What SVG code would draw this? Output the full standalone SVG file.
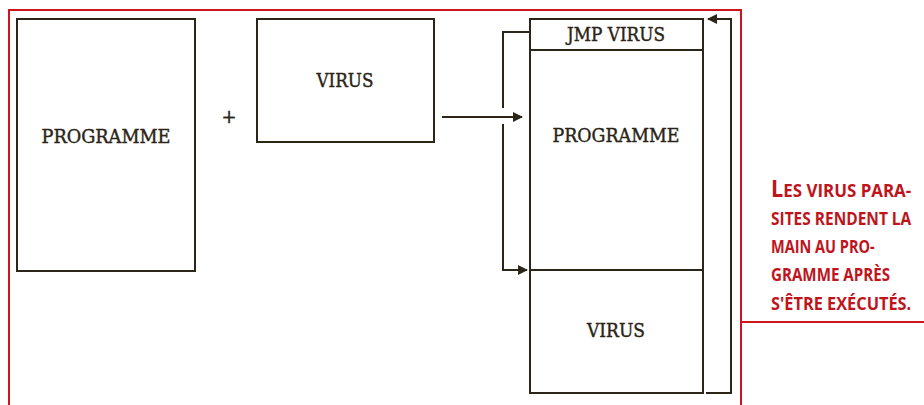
<svg xmlns="http://www.w3.org/2000/svg" width="924" height="405" viewBox="0 0 924 405">
<style>
.box{fill:none;stroke:#2b2617;stroke-width:2}
.lbl{font-family:"DejaVu Serif","Liberation Serif",serif;font-size:18px;fill:#2b2416;stroke:#2b2416;stroke-width:0.4;text-anchor:middle}
.con{fill:none;stroke:#2b2617;stroke-width:2}
.frame{fill:none;stroke:#d0141e;stroke-width:2}
.cap{font-family:"Open Sans","DejaVu Sans",sans-serif;font-weight:700;font-size:18px;fill:#c0141c}
</style>
<defs>
<marker id="ah" viewBox="0 0 10 10" refX="9" refY="5" markerWidth="10" markerHeight="10" markerUnits="userSpaceOnUse" orient="auto">
<path d="M0,0 L10,5 L0,10 Z" fill="#2b2617"/>
</marker>
</defs>
<rect width="924" height="405" fill="#ffffff"/>
<g id="frame">
<path class="frame" d="M9,405 V10 H741 V405"/>
<path class="frame" d="M741,322 H924"/>
</g>
<g id="programme">
<rect class="box" x="17" y="19" width="178" height="252"/>
<text class="lbl" x="106" y="143" textLength="129" lengthAdjust="spacingAndGlyphs">PROGRAMME</text>
</g>
<g id="plus">
<text class="lbl" x="229" y="123">+</text>
</g>
<g id="virus">
<rect class="box" x="257" y="19" width="177" height="123"/>
<text class="lbl" x="345" y="87" textLength="57" lengthAdjust="spacingAndGlyphs">VIRUS</text>
</g>
<g id="infected">
<rect class="box" x="530" y="19" width="173" height="374"/>
<line class="box" x1="530" y1="50" x2="703" y2="50"/>
<line class="box" x1="530" y1="270" x2="703" y2="270"/>
<text class="lbl" x="616" y="41" textLength="98" lengthAdjust="spacingAndGlyphs">JMP VIRUS</text>
<text class="lbl" x="616" y="142" textLength="127" lengthAdjust="spacingAndGlyphs">PROGRAMME</text>
<text class="lbl" x="616" y="337" textLength="58" lengthAdjust="spacingAndGlyphs">VIRUS</text>
</g>
<g id="connectors">
<line class="con" x1="442" y1="117" x2="522" y2="117" marker-end="url(#ah)"/>
<path class="con" d="M530,32 H503 V108"/>
<path class="con" d="M503,124 V270 H527" marker-end="url(#ah)"/>
<path class="con" d="M706,393 H731 V19 H708" marker-end="url(#ah)"/>
</g>
<g id="caption" transform="translate(771,0) scale(0.85,1)">
<text class="cap" x="0" y="197" textLength="165" lengthAdjust="spacingAndGlyphs"><tspan font-size="23">L</tspan>ES VIRUS PARA-</text>
<text class="cap" x="0" y="225" textLength="165" lengthAdjust="spacingAndGlyphs">SITES RENDENT LA</text>
<text class="cap" x="0" y="253" textLength="122" lengthAdjust="spacingAndGlyphs">MAIN AU PRO-</text>
<text class="cap" x="0" y="281" textLength="140" lengthAdjust="spacingAndGlyphs">GRAMME APRÈS</text>
<text class="cap" x="0" y="310" textLength="165" lengthAdjust="spacingAndGlyphs">S'ÊTRE EXÉCUTÉS.</text>
</g>
</svg>
